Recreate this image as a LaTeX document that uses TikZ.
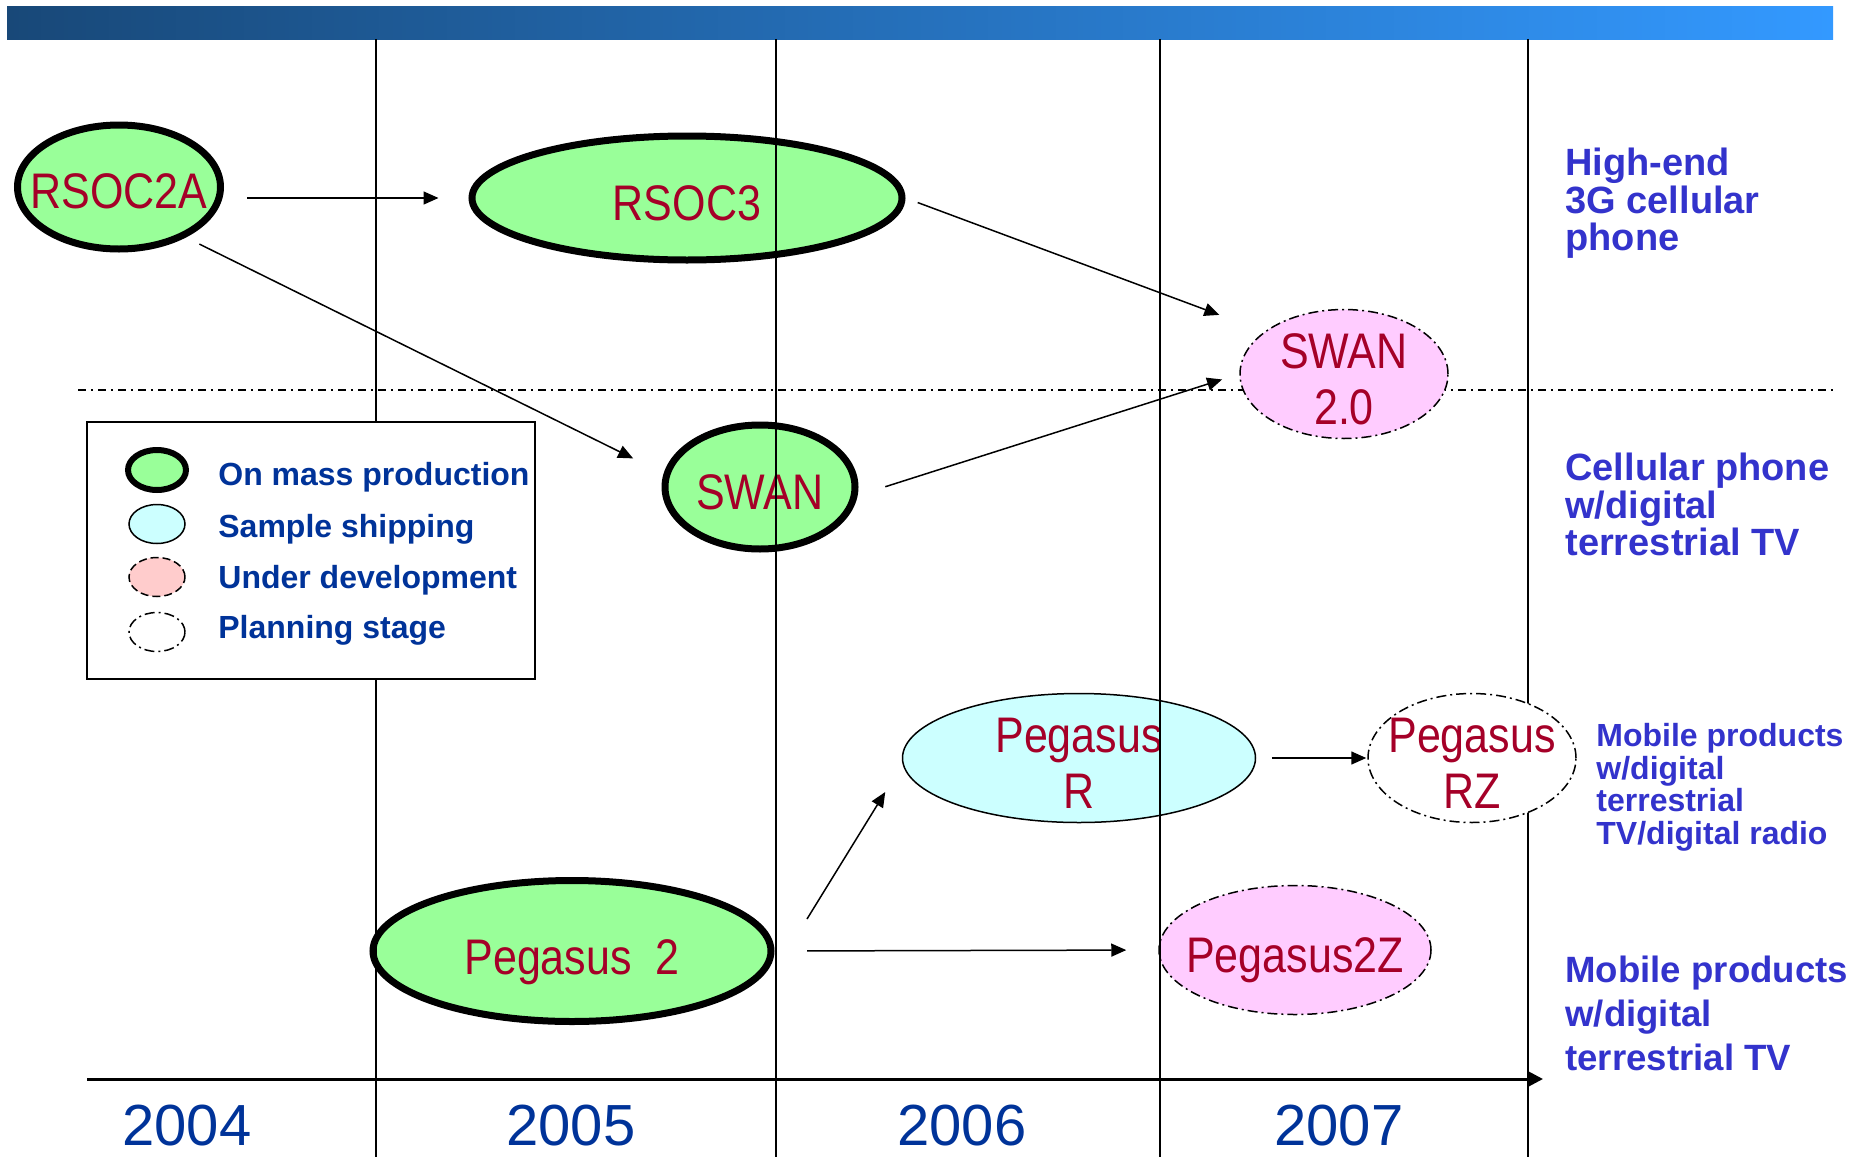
\documentclass[tikz,border=0pt]{standalone}
\usepackage{fontspec}
\setmainfont{Liberation Sans}
\newfontfamily\chipfont{Liberation Sans}[FakeStretch=0.86]
\usetikzlibrary{arrows.meta}
\usetikzlibrary{shapes}

\definecolor{chipRed}{RGB}{165,0,40}
\definecolor{legendBlue}{RGB}{0,51,153}
\definecolor{marketBlue}{RGB}{51,51,204}
\definecolor{massGreen}{RGB}{153,255,153}
\definecolor{sampleCyan}{RGB}{204,255,255}
\definecolor{devPink}{RGB}{255,204,255}
\definecolor{legendPink}{RGB}{255,204,204}
\definecolor{barLeft}{RGB}{24,72,120}
\definecolor{barRight}{RGB}{51,153,255}

\begin{document}
\begin{tikzpicture}[x = 0.5pt, y = -0.5pt]
\tikzstyle{chipStyle} = [shape = ellipse, inner sep = 0pt, draw]
\tikzstyle{massStyle} = [chipStyle, line width = 3.5pt, fill = massGreen]
\tikzstyle{sampleStyle} = [chipStyle, line width = 0.75pt, fill = sampleCyan]
\tikzstyle{devStyle} = [chipStyle, line width = 0.75pt, fill = devPink, dash pattern = on 5pt off 2pt on 1pt off 2pt]
\tikzstyle{planStyle} = [chipStyle, line width = 0.75pt, fill = white, dash pattern = on 5pt off 2pt on 1pt off 2pt]
\tikzstyle{chipText} = [text = chipRed, font = \chipfont\fontsize{25}{28}\selectfont, align = center, inner sep = 0pt, yshift = -2.5pt]
\tikzstyle{flowArrow} = [line width = 0.75pt, -{Triangle[length = 7.5pt, width = 6.5pt]}]
\tikzstyle{legendText} = [anchor = base west, inner sep = 0pt, text = legendBlue, font = \bfseries\fontsize{16}{16}\selectfont]
\tikzstyle{marketText} = [anchor = north west, inner sep = 0pt, align = left, text = marketBlue]
\tikzstyle{yearText} = [anchor = north, inner sep = 0pt, text = legendBlue, font = \fontsize{29}{29}\selectfont]
\useasboundingbox (0,0) rectangle (1870,1157);
% header bar
\shade[left color = barLeft, right color = barRight] (7,6) rectangle (1833,39);
% border between the two upper groups
\draw[line width = 0.6pt, dash pattern = on 4pt off 2.5pt on 1pt off 2.5pt] (78,390) -- (1833,390);
% products
\node[massStyle, minimum width = 101.5pt, minimum height = 62pt,
  label = {[chipText, name = rsocAText, yshift = 0.5pt]center:RSOC2A}] (rsocA) at (119,187) {};
\node[massStyle, minimum width = 215pt, minimum height = 62pt,
  label = {[chipText, name = rsoc3Text]center:RSOC3}] (rsoc3) at (687,198) {};
\node[massStyle, minimum width = 95pt, minimum height = 62pt,
  label = {[chipText, name = swanText]center:SWAN}] (swan) at (760,487) {};
\node[devStyle, minimum width = 104pt, minimum height = 64.5pt,
  label = {[chipText, name = swanBText]center:{SWAN\\2.0}}] (swanB) at (1344,374) {};
\node[sampleStyle, minimum width = 176.5pt, minimum height = 64.5pt,
  label = {[chipText, name = pegRText]center:{Pegasus\\R}}] (pegR) at (1079,758) {};
\node[massStyle, minimum width = 199pt, minimum height = 70.5pt,
  label = {[chipText, name = peg2Text, yshift = -3pt]center:Pegasus\ \ 2}] (peg2) at (572,951) {};
\node[devStyle, minimum width = 136pt, minimum height = 64.5pt,
  label = {[chipText, name = peg2zText, yshift = -2.5pt]center:Pegasus2Z}] (peg2z) at (1295,950) {};
% year grid
\foreach \gx in {376, 776, 1160, 1528}
  \draw[line width = 0.7pt] (\gx,39) -- (\gx,1157);
\node[planStyle, minimum width = 104pt, minimum height = 64.5pt,
  label = {[chipText, name = pegRZText]center:{Pegasus\\RZ}}] (pegRZ) at (1472,758) {};
% evolution
\draw[flowArrow, shorten <= 11.5pt, shorten >= 15pt] (rsocA.east |- rsoc3.west) -- (rsoc3.west);
\draw[flowArrow, shorten <= 7.5pt, shorten >= 17pt] (rsocA.-37) -- (swan.172);
\draw[flowArrow, shorten <= 6.5pt, shorten >= 24pt] (rsoc3.east) -- (swanB.152);
\draw[flowArrow, shorten <= 14.5pt, shorten >= 9pt] (swan.-5) -- (swanB.west);
\draw[flowArrow] ([shift = {(32.5,-32)}]peg2.east) -- ([shift = {(-16.5,34)}]pegR.west);
\draw[flowArrow, shorten <= 16.25pt, shorten >= 16pt] (peg2.east) -- (peg2z.west);
\draw[flowArrow, shorten <= 7.75pt, shorten >= 0.5pt] (pegR.east) -- (pegRZ.west);
% legend
\draw[line width = 0.75pt, fill = white] (87,422) rectangle (535,679);
\node[chipStyle, line width = 3pt, fill = massGreen, minimum width = 29pt, minimum height = 20pt] (keyMass) at (157,470) {};
\node[chipStyle, line width = 0.75pt, fill = sampleCyan, minimum width = 28pt, minimum height = 19.5pt] (keySample) at (157,524) {};
\node[chipStyle, line width = 0.75pt, fill = legendPink, dash pattern = on 4pt off 2pt, minimum width = 28pt, minimum height = 19.5pt] (keyDev) at (157,577) {};
\node[chipStyle, line width = 0.75pt, fill = white, dash pattern = on 5pt off 2pt on 1pt off 2pt, minimum width = 28pt, minimum height = 19.5pt] (keyPlan) at (157,632) {};
\node[legendText] (keyMassText) at (218,485) {On mass production};
\node[legendText] (keySampleText) at (218,537) {Sample shipping};
\node[legendText] (keyDevText) at (218,588) {Under development};
\node[legendText] (keyPlanText) at (218,638) {Planning stage};
% markets
\node[marketText, font = \bfseries\fontsize{19}{18.6}\selectfont] (highEnd) at (1565,148) {High-end\\3G cellular\\phone};
\node[marketText, font = \bfseries\fontsize{19}{18.6}\selectfont] (cellTV) at (1565,453) {Cellular phone\\w/digital\\terrestrial TV};
\node[marketText, font = \bfseries\fontsize{16}{16.25}\selectfont] (mobileRadio) at (1596,723) {Mobile products\\w/digital\\terrestrial\\TV/digital radio};
\node[marketText, font = \bfseries\fontsize{18.3}{22}\selectfont] (mobileTV) at (1565,956) {Mobile products\\w/digital\\terrestrial TV};
% time axis
\draw[line width = 1.5pt, -{Triangle[length = 7.5pt, width = 7.5pt]}] (87,1079) -- (1543,1079);
\node[yearText] (y2004) at (187,1105) {2004};
\node[yearText] (y2005) at (571,1105) {2005};
\node[yearText] (y2006) at (962,1105) {2006};
\node[yearText] (y2007) at (1339,1105) {2007};
\end{tikzpicture}
\end{document}
